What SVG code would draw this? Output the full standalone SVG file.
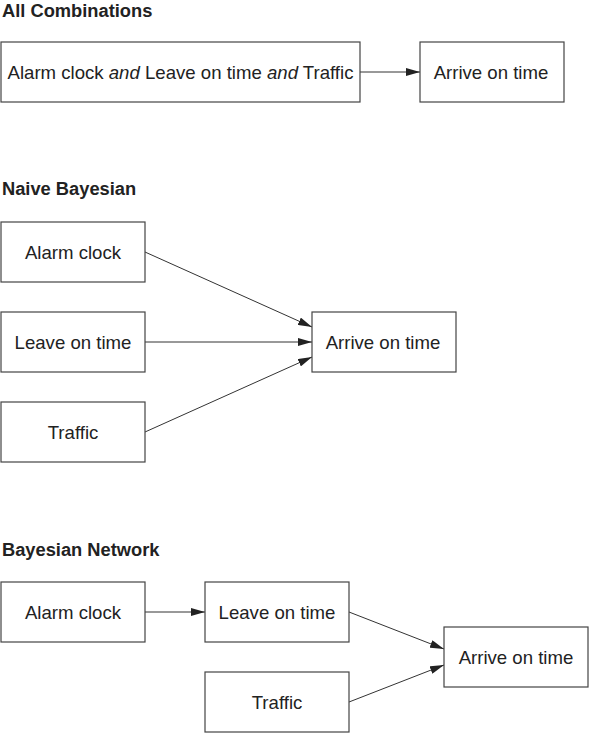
<svg xmlns="http://www.w3.org/2000/svg" width="589" height="733" viewBox="0 0 589 733">
<style>
.box{fill:#fff;stroke:#444;stroke-width:1.2}
.t{font-family:"Liberation Sans",Arial,sans-serif;font-size:18.6px;fill:#222;text-anchor:middle;dominant-baseline:central}
.h{font-family:"Liberation Sans",Arial,sans-serif;font-size:18.3px;font-weight:bold;fill:#222}
.c{stroke:#333;stroke-width:1;fill:none;marker-end:url(#ah)}
</style>
<defs>
<marker id="ah" viewBox="0 0 14 8" refX="14" refY="4" markerWidth="14" markerHeight="8" markerUnits="userSpaceOnUse" orient="auto">
<path d="M0,0 L14,4 L0,8 Z" fill="#222"/>
</marker>
</defs>
<rect width="589" height="733" fill="#fff"/>
<text class="h" x="2" y="17">All Combinations</text>
<text class="h" x="2" y="195">Naive Bayesian</text>
<text class="h" x="2" y="556">Bayesian Network</text>
<g id="connectors">
<line class="c" x1="360" y1="72" x2="420" y2="72"/>
<line class="c" x1="145" y1="252" x2="312" y2="327"/>
<line class="c" x1="145" y1="342" x2="312" y2="342"/>
<line class="c" x1="145" y1="432" x2="312" y2="357"/>
<line class="c" x1="145" y1="612" x2="205" y2="612"/>
<line class="c" x1="349" y1="612" x2="444" y2="649"/>
<line class="c" x1="349" y1="702" x2="444" y2="665"/>
</g>
<g id="ac-all"><rect class="box" x="1" y="42" width="359" height="60"/><text class="t" x="180.5" y="72">Alarm clock <tspan font-style="italic">and</tspan> Leave on time <tspan font-style="italic">and</tspan> Traffic</text></g>
<g id="ac-arrive"><rect class="box" x="420" y="42" width="144" height="60"/><text class="t" x="491" y="72">Arrive on time</text></g>
<g id="nb-alarm"><rect class="box" x="1" y="222" width="144" height="60"/><text class="t" x="73" y="252">Alarm clock</text></g>
<g id="nb-leave"><rect class="box" x="1" y="312" width="144" height="60"/><text class="t" x="73" y="342">Leave on time</text></g>
<g id="nb-traffic"><rect class="box" x="1" y="402" width="144" height="60"/><text class="t" x="73" y="432">Traffic</text></g>
<g id="nb-arrive"><rect class="box" x="312" y="312" width="144" height="60"/><text class="t" x="383" y="342">Arrive on time</text></g>
<g id="bn-alarm"><rect class="box" x="1" y="582" width="144" height="60"/><text class="t" x="73" y="612">Alarm clock</text></g>
<g id="bn-leave"><rect class="box" x="205" y="582" width="144" height="60"/><text class="t" x="277" y="612">Leave on time</text></g>
<g id="bn-traffic"><rect class="box" x="205" y="672" width="144" height="60"/><text class="t" x="277" y="702">Traffic</text></g>
<g id="bn-arrive"><rect class="box" x="444" y="627" width="144" height="60"/><text class="t" x="516" y="657">Arrive on time</text></g>
</svg>
